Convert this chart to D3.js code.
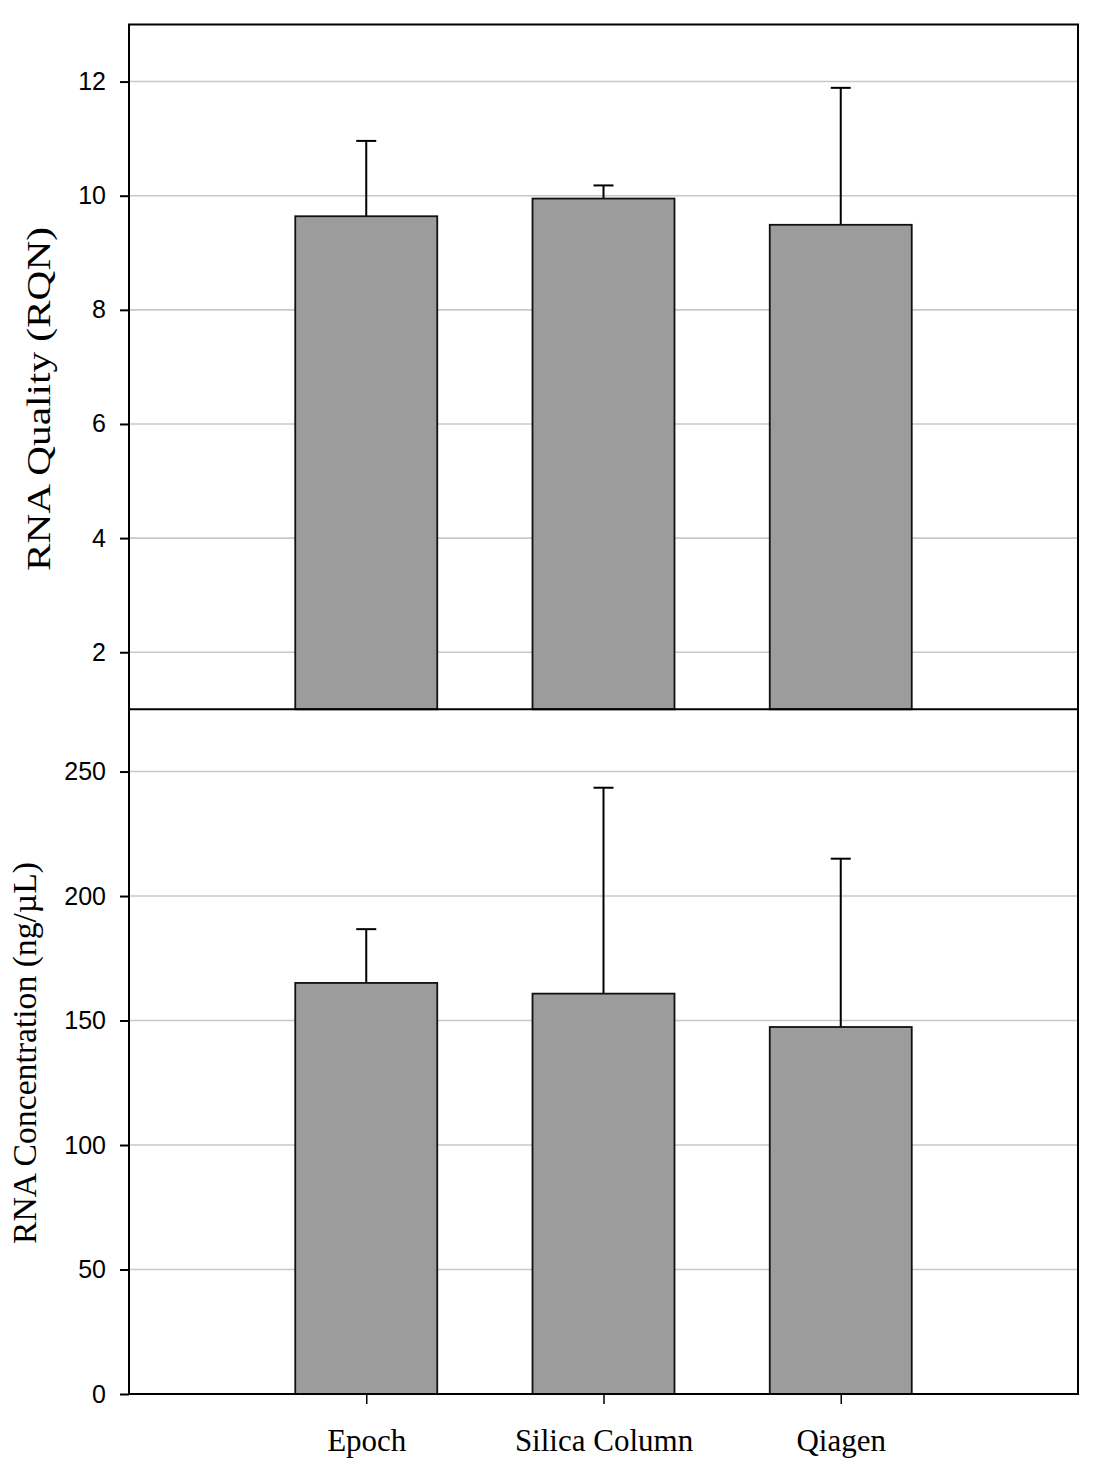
<!DOCTYPE html>
<html>
<head>
<meta charset="utf-8">
<script src="https://cdn.jsdelivr.net/npm/d3@7"></script>
<style>
  body { margin: 0; background: #fff; }
  .tick text { font-family: "Liberation Sans", Arial, sans-serif; font-size: 25px; fill: #000; }
  .title { font-family: "Liberation Serif", "Times New Roman", serif; fill: #000; }
</style>
</head>
<body>
<div id="chart"></div>
<script>
// data
const METHODS = ["Epoch", "Silica Column", "Qiagen"];
const QUALITY = [9.64, 9.95, 9.49];        // RQN, bar height
const QUALITY_SD = [1.32, 0.23, 2.40];     // upper error
const CONC = [165.1, 160.8, 147.4];        // ng/uL
const CONC_SD = [21.6, 82.7, 67.6];
const QUALITY_TICKS = [2, 4, 6, 8, 10, 12];
const CONC_TICKS = [0, 50, 100, 150, 200, 250];

const W = 1100, H = 1478;
const PLOT = {left: 129, right: 1078, top: 24.5, mid: 709.3, bottom: 1394};
const BAR_W = 142, CAP_W = 20;

const svg = d3.select("#chart").append("svg")
              .attr("width", W)
              .attr("height", H);

const x = d3.scalePoint()
            .domain(METHODS)
            .range([PLOT.left, PLOT.right])
            .padding(1);

var panel = function(values, sds, domain, ticks, y0, y1, title){
    var y = d3.scaleLinear().domain(domain).range([y1, y0]);
    var g = svg.append("g");

    // grid
    g.selectAll("line.grid")
     .data(ticks.filter((t) => (t > domain[0])))
     .enter()
     .append("line")
     .attr("x1", PLOT.left).attr("x2", PLOT.right)
     .attr("y1", (d) => y(d)).attr("y2", (d) => y(d))
     .attr("stroke", "#c8c8c8")
     .attr("stroke-width", 1.6);

    // error bars (upper only)
    var eg = g.selectAll("g.err")
              .data(values.map((v, i) => ({name: METHODS[i], v: v, sd: sds[i]})))
              .enter()
              .append("g");
    eg.append("line")
      .attr("x1", (d) => x(d.name)).attr("x2", (d) => x(d.name))
      .attr("y1", (d) => y(d.v)).attr("y2", (d) => y(d.v + d.sd))
      .attr("stroke", "#000").attr("stroke-width", 2);
    eg.append("line")
      .attr("x1", (d) => x(d.name) - CAP_W/2).attr("x2", (d) => x(d.name) + CAP_W/2)
      .attr("y1", (d) => y(d.v + d.sd)).attr("y2", (d) => y(d.v + d.sd))
      .attr("stroke", "#000").attr("stroke-width", 2);

    // bars
    g.selectAll("rect.bar")
     .data(values)
     .enter()
     .append("rect")
     .attr("x", (d, i) => x(METHODS[i]) - BAR_W/2)
     .attr("y", (d) => y(d))
     .attr("width", BAR_W)
     .attr("height", (d) => y(domain[0]) - y(d))
     .attr("fill", "#9b9c9b")
     .attr("stroke", "#111")
     .attr("stroke-width", 1.8);

    // y axis
    g.append("g")
     .attr("transform", "translate(" + PLOT.left + ",0)")
     .call(d3.axisLeft(y).tickValues(ticks).tickSize(9).tickPadding(14).tickSizeOuter(0))
     .call((a) => a.select(".domain").remove())
     .call((a) => a.selectAll(".tick line").attr("stroke-width", 2));

    g.append("text")
     .attr("class", "title")
     .attr("transform", "translate(" + title.x + "," + title.cy + ") rotate(-90)")
     .attr("text-anchor", "middle")
     .attr("font-size", title.size)
     .attr("textLength", title.len)
     .attr("lengthAdjust", "spacingAndGlyphs")
     .text(title.text);
    return y;
};

panel(QUALITY, QUALITY_SD, [1, 13], QUALITY_TICKS, PLOT.top, PLOT.mid,
      {text: "RNA Quality (RQN)", x: 50, cy: 399, size: 34, len: 344});
panel(CONC, CONC_SD, [0, 275], CONC_TICKS, PLOT.mid, PLOT.bottom,
      {text: "RNA Concentration (ng/\u00B5L)", x: 36, cy: 1053, size: 33, len: 382});

// x axis
svg.append("g")
   .attr("transform", "translate(0," + PLOT.bottom + ")")
   .call(d3.axisBottom(x).tickSize(10).tickPadding(25).tickSizeOuter(0))
   .call((a) => a.select(".domain").remove())
   .call((a) => a.selectAll(".tick line").attr("stroke-width", 1.5))
   .call((a) => a.selectAll(".tick text")
                 .attr("class", "title")
                 .style("font-family", "'Liberation Serif', 'Times New Roman', serif")
                 .style("font-size", "31px"));

// frames
svg.append("rect")
   .attr("x", PLOT.left).attr("y", PLOT.top)
   .attr("width", PLOT.right - PLOT.left).attr("height", PLOT.bottom - PLOT.top)
   .attr("fill", "none").attr("stroke", "#000").attr("stroke-width", 2);
svg.append("line")
   .attr("x1", PLOT.left).attr("x2", PLOT.right)
   .attr("y1", PLOT.mid).attr("y2", PLOT.mid)
   .attr("stroke", "#000").attr("stroke-width", 2);
</script>
</body>
</html>
